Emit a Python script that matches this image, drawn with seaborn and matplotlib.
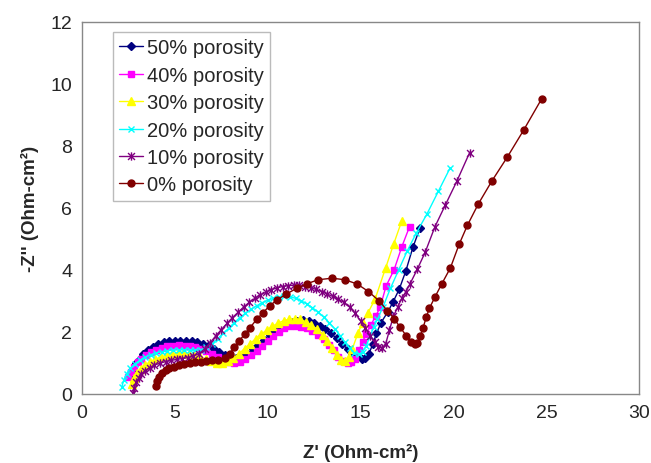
import matplotlib
matplotlib.use("Agg")
import matplotlib.pyplot as plt
from matplotlib.path import Path
import seaborn as sns

# Data (Z' and -Z'' in Ohm-cm2)
x50 = [2.6, 2.75, 2.9, 3.1, 3.3, 3.55, 3.8, 4.1, 4.4, 4.7, 5.0, 5.3, 5.6, 5.9, 6.2, 6.5, 6.8, 7.1, 7.4, 7.7,
       8.0, 8.3, 8.6, 8.9, 9.2, 9.5, 9.8, 10.1, 10.4, 10.7, 11.0, 11.3, 11.6, 11.9, 12.2, 12.5, 12.8, 13.1, 13.4, 13.7,
       14.0, 14.3, 14.55, 14.8, 15.05, 15.25, 15.45, 15.65, 15.85, 16.1, 16.45, 16.75, 17.08, 17.43, 17.81, 18.2]
y50 = [0.6, 0.8, 0.98, 1.14, 1.28, 1.41, 1.51, 1.6, 1.66, 1.7, 1.72, 1.72, 1.71, 1.69, 1.66, 1.61, 1.54, 1.45, 1.35, 1.25,
       1.18, 1.16, 1.2, 1.3, 1.44, 1.59, 1.75, 1.9, 2.03, 2.15, 2.25, 2.32, 2.36, 2.37, 2.35, 2.29, 2.2, 2.09, 1.95, 1.79,
       1.61, 1.44, 1.3, 1.18, 1.12, 1.15, 1.3, 1.6, 1.95, 2.3, 2.63, 2.97, 3.38, 3.96, 4.72, 5.36]

x40 = [2.5, 2.65, 2.8, 3.0, 3.2, 3.45, 3.7, 4.0, 4.3, 4.6, 4.9, 5.2, 5.5, 5.8, 6.1, 6.4, 6.7, 7.0, 7.3, 7.6,
       7.9, 8.2, 8.5, 8.8, 9.1, 9.4, 9.7, 10.0, 10.3, 10.6, 10.9, 11.2, 11.5, 11.8, 12.1, 12.4, 12.7, 13.0, 13.3, 13.55,
       13.8, 14.05, 14.3, 14.5, 14.7, 14.9, 15.1, 15.3, 15.55, 15.8, 16.05, 16.37, 16.8, 17.22, 17.63]
y40 = [0.54, 0.72, 0.88, 1.02, 1.14, 1.26, 1.35, 1.43, 1.49, 1.53, 1.55, 1.56, 1.55, 1.53, 1.5, 1.45, 1.38, 1.29, 1.19, 1.1,
       1.04, 1.01, 1.04, 1.12, 1.24, 1.38, 1.55, 1.72, 1.86, 2.0, 2.12, 2.18, 2.2, 2.17, 2.11, 2.02, 1.9, 1.76, 1.58, 1.4,
       1.2, 1.06, 1.0, 1.02, 1.12, 1.4, 1.68, 1.93, 2.22, 2.5, 2.79, 3.48, 4.0, 4.75, 5.39]

x30 = [2.67, 2.8, 2.95, 3.15, 3.4, 3.65, 3.95, 4.25, 4.55, 4.85, 5.15, 5.45, 5.75, 6.05, 6.35, 6.65, 6.95, 7.25, 7.55, 7.85,
       8.15, 8.45, 8.75, 9.05, 9.35, 9.65, 9.95, 10.25, 10.55, 10.85, 11.15, 11.45, 11.75, 12.05, 12.35, 12.65, 12.95, 13.2,
       13.45, 13.7, 13.95, 14.15, 14.35, 14.55, 14.85, 15.1, 15.4, 15.78, 16.35, 16.77, 17.21]
y30 = [0.32, 0.5, 0.66, 0.8, 0.93, 1.03, 1.12, 1.19, 1.25, 1.29, 1.31, 1.31, 1.29, 1.25, 1.19, 1.12, 1.05, 1.01, 1.01, 1.06,
       1.16, 1.3, 1.46, 1.62, 1.78, 1.93, 2.06, 2.18, 2.28, 2.36, 2.41, 2.42, 2.4, 2.33, 2.22, 2.08, 1.9, 1.7,
       1.48, 1.25, 1.08, 1.05, 1.2, 1.45, 1.95, 2.3, 2.62, 3.06, 4.07, 4.82, 5.57]

x20 = [2.14, 2.25, 2.4, 2.6, 2.85, 3.1, 3.4, 3.7, 4.0, 4.3, 4.6, 4.9, 5.2, 5.5, 5.8, 6.1, 6.4, 6.7, 7.0, 7.3,
       7.6, 7.9, 8.2, 8.5, 8.8, 9.1, 9.4, 9.7, 10.0, 10.3, 10.6, 10.9, 11.2, 11.5, 11.8, 12.1, 12.4, 12.7, 13.0, 13.3,
       13.6, 13.9, 14.15, 14.4, 14.65, 14.9, 15.1, 15.3, 15.5, 15.7, 15.9, 16.2, 16.6, 17.05, 17.5, 17.99, 18.56, 19.19, 19.82]
y20 = [0.22, 0.45, 0.65, 0.82, 0.97, 1.08, 1.18, 1.26, 1.32, 1.36, 1.39, 1.41, 1.42, 1.42, 1.41, 1.4, 1.42, 1.5, 1.62, 1.78,
       1.95, 2.12, 2.3, 2.46, 2.6, 2.73, 2.84, 2.94, 3.02, 3.08, 3.12, 3.14, 3.13, 3.08, 3.0, 2.9, 2.78, 2.64, 2.48, 2.3,
       2.1, 1.88, 1.66, 1.47, 1.33, 1.28, 1.35, 1.55, 1.85, 2.15, 2.4, 2.8, 3.4, 4.0, 4.6, 5.18, 5.79, 6.54, 7.29]

x10 = [2.75, 2.82, 2.92, 3.05, 3.2, 3.4, 3.65, 3.9, 4.2, 4.5, 4.8, 5.1, 5.4, 5.7, 6.0, 6.3, 6.6, 6.9, 7.2, 7.5,
       7.8, 8.1, 8.4, 8.7, 9.0, 9.3, 9.6, 9.9, 10.2, 10.5, 10.8, 11.1, 11.4, 11.7, 12.0, 12.3, 12.6, 12.9, 13.2, 13.5,
       13.8, 14.1, 14.4, 14.7, 15.0, 15.25, 15.5, 15.75, 15.95, 16.15, 16.35, 16.55, 16.76, 17.0, 17.21, 17.44, 17.66, 18.05,
       18.47, 19.0, 19.55, 20.18, 20.86]
y10 = [0.02, 0.2, 0.38, 0.52, 0.64, 0.75, 0.85, 0.93, 0.99, 1.04, 1.08, 1.11, 1.14, 1.17, 1.22, 1.3, 1.45, 1.65, 1.87, 2.07,
       2.27, 2.46, 2.63, 2.8, 2.95, 3.08, 3.19, 3.28, 3.36, 3.42, 3.46, 3.49, 3.5, 3.5, 3.45, 3.42, 3.37, 3.3, 3.22, 3.14,
       3.05, 2.95, 2.8, 2.6, 2.35, 2.12, 1.88, 1.66, 1.52, 1.48, 1.62, 2.05, 2.5, 2.8, 3.08, 3.3, 3.55, 4.02,
       4.56, 5.39, 6.08, 6.86, 7.77]

x0 = [3.98, 4.05, 4.15, 4.3, 4.5, 4.7, 4.95, 5.2, 5.5, 5.8, 6.1, 6.4, 6.7, 7.0, 7.3, 7.7, 7.95, 8.2, 8.45, 8.75,
      9.05, 9.4, 9.75, 10.1, 10.5, 11.0, 11.55, 12.1, 12.72, 13.45, 14.16, 14.82, 15.42, 15.99, 16.44, 16.82, 17.12, 17.45,
      17.7, 17.9, 18.05, 18.2, 18.35, 18.53, 18.7, 18.99, 19.37, 19.83, 20.3, 20.75, 21.34, 22.06, 22.9, 23.77, 24.75]
y0 = [0.25, 0.42, 0.55, 0.66, 0.76, 0.83, 0.88, 0.92, 0.96, 0.99, 1.02, 1.04, 1.06, 1.08, 1.1, 1.15, 1.3, 1.5, 1.7, 1.92,
      2.14, 2.4, 2.62, 2.84, 3.03, 3.22, 3.4, 3.55, 3.68, 3.73, 3.68, 3.54, 3.3, 3.0, 2.68, 2.41, 2.15, 1.88,
      1.68, 1.6, 1.65, 1.85, 2.11, 2.47, 2.76, 3.11, 3.55, 4.06, 4.82, 5.44, 6.13, 6.86, 7.64, 8.5, 9.52]

labels = ['50% porosity', '40% porosity', '30% porosity', '20% porosity', '10% porosity', '0% porosity']

# Excel-style "star" marker: an x with a vertical bar
star = Path([(-1, -1), (1, 1), (-1, 1), (1, -1), (0, -1.2), (0, 1.2)],
            [Path.MOVETO, Path.LINETO, Path.MOVETO, Path.LINETO, Path.MOVETO, Path.LINETO])

series = [
    (x50, y50, '#000080', 'D', 4),
    (x40, y40, '#FF00FF', 's', 5),
    (x30, y30, '#FFFF00', '^', 5.5),
    (x20, y20, '#00FFFF', 'x', 5),
    (x10, y10, '#800080', star, 6),
    (x0, y0, '#800000', 'o', 5),
]

sns.set_style('white')
plt.rcParams['font.family'] = ['Liberation Sans', 'DejaVu Sans']

fig = plt.figure(figsize=(6.51, 4.64), dpi=100)
ax = fig.add_axes([0.126, 0.149, 0.856, 0.802])

for (xs, ys, col, mk, ms), lab in zip(series, labels):
    sns.lineplot(x=xs, y=ys, sort=False, estimator=None, color=col, linewidth=1,
                 marker=mk, markersize=ms, markeredgecolor=col, markerfacecolor=col,
                 markeredgewidth=1, label=lab, ax=ax)

ax.set_xlim(0, 30)
ax.set_ylim(0, 12)
ax.set_xticks(range(0, 31, 5))
ax.set_yticks(range(0, 13, 2))
ax.tick_params(direction='in', length=4, color='#888888', labelsize=14, pad=7)
for s in ax.spines.values():
    s.set_color('#888888')
    s.set_linewidth(1)

ax.set_xlabel("Z' (Ohm-cm²)", fontsize=13.5, fontweight='bold', labelpad=16)
ax.set_ylabel("-Z'' (Ohm-cm²)", fontsize=13.5, fontweight='bold', labelpad=8)

leg = ax.legend(loc='upper left', bbox_to_anchor=(0.056, 0.972), borderaxespad=0,
                fontsize=14.5, frameon=True, fancybox=False, handlelength=1.2,
                handletextpad=0.2, labelspacing=0.42, borderpad=0.3)
leg.get_frame().set_edgecolor('#aaaaaa')
leg.get_frame().set_linewidth(1)

fig.savefig('out.png', dpi=100)
